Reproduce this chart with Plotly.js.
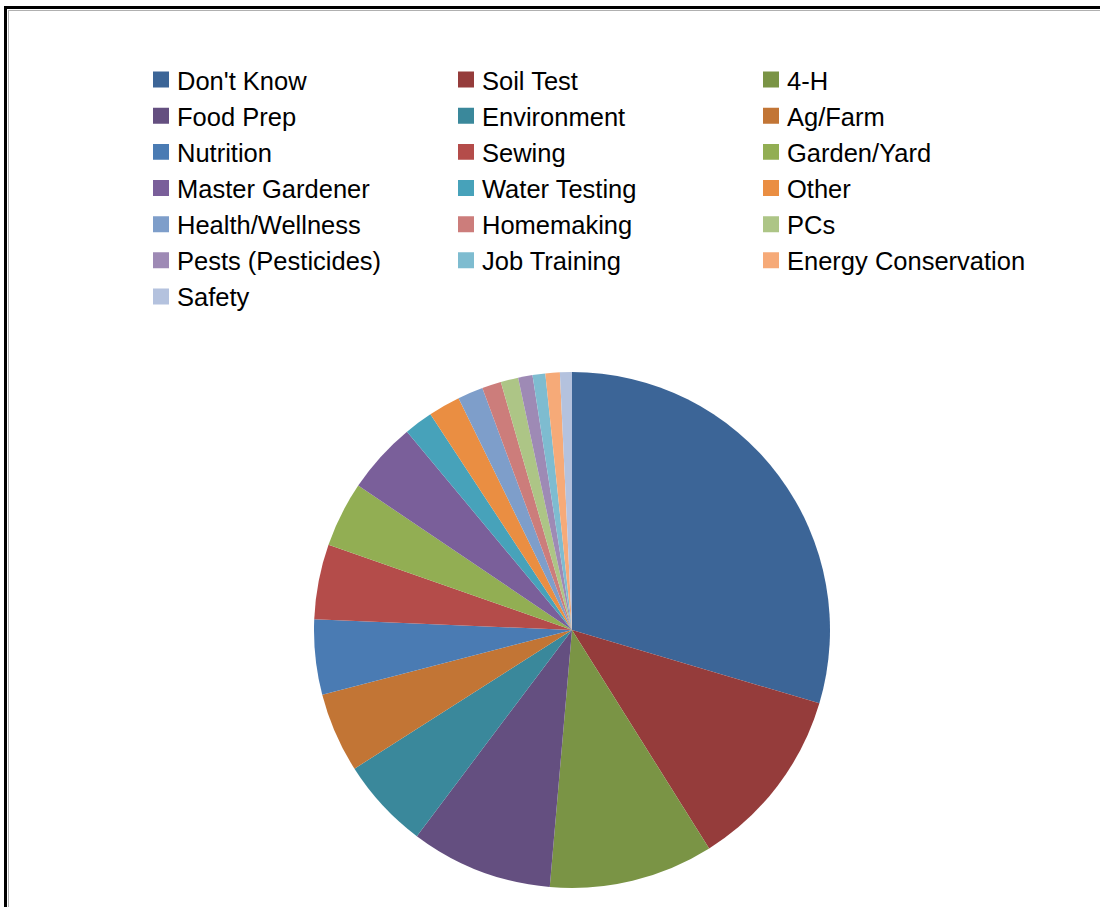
<!DOCTYPE html>
<html>
<head>
<meta charset="utf-8">
<script src="https://cdn.plot.ly/plotly-3.0.1.min.js"></script>
<style>
  html, body { margin: 0; padding: 0; background: #fff; overflow: hidden; }
  #chart { position: absolute; left: 0; top: 0; width: 1100px; height: 907px; }
  #frame { position: absolute; left: 4px; top: 6px; width: 1300px; height: 1200px;
           border-left: 3px solid #000; border-top: 3px solid #000; pointer-events: none; }
  #frame2 { position: absolute; left: 8px; top: 10px; width: 1300px; height: 1200px;
           border-left: 1px solid #b0b0b0; border-top: 1px solid #b0b0b0; pointer-events: none; }
  #chart .legend path.legendpie { transform: translate(24px, 0px) scale(1.333); }
</style>
</head>
<body>
<div id="chart"></div>
<div id="frame"></div>
<div id="frame2"></div>
<script>
const categories = ["Don't Know", "Soil Test", "4-H", "Food Prep", "Environment", "Ag/Farm",
  "Nutrition", "Sewing", "Garden/Yard", "Master Gardener", "Water Testing", "Other",
  "Health/Wellness", "Homemaking", "PCs", "Pests (Pesticides)", "Job Training",
  "Energy Conservation", "Safety"];
const values = [29.6, 11.5, 10.3, 8.9, 5.7, 5.0, 4.7, 4.7, 4.1, 4.5, 1.8, 2.0,
  1.6, 1.2, 1.1, 0.9, 0.8, 0.9, 0.75];
const colors = ["#3C6597", "#953C3B", "#7A9445", "#644F80", "#3A889B", "#C27535",
  "#4A7BB3", "#B44C4A", "#92AE53", "#7A5F9A", "#47A2BA", "#EA8E42",
  "#7E9ECA", "#CC7D7B", "#ADC586", "#9E8AB5", "#7EBCD0", "#F6AA78", "#B4C2DE"];

const W = 1100, H = 907;
const cx = 572, cy = 630, r = 258;

const trace = {
  type: 'pie',
  labels: categories,
  values: values,
  sort: false,
  direction: 'clockwise',
  rotation: 0,
  textinfo: 'none',
  hoverinfo: 'label+percent',
  marker: { colors: colors, line: { width: 0 } },
  domain: { x: [(cx - r) / W, (cx + r) / W], y: [(H - cy - r) / H, (H - cy + r) / H] }
};

const layout = {
  width: W, height: H,
  margin: { l: 0, r: 0, t: 0, b: 0 },
  paper_bgcolor: '#fff',
  showlegend: true,
  legend: {
    orientation: 'h',
    x: 137 / W, xanchor: 'left',
    y: 1 - 56.5 / H, yanchor: 'top',
    entrywidth: 260, entrywidthmode: 'pixels',
    font: { family: 'Liberation Sans, Arial, sans-serif', size: 25.5, color: '#000' },
    traceorder: 'normal'
  }
};

Plotly.newPlot('chart', [trace], layout, { displayModeBar: false, staticPlot: true });
</script>
</body>
</html>
